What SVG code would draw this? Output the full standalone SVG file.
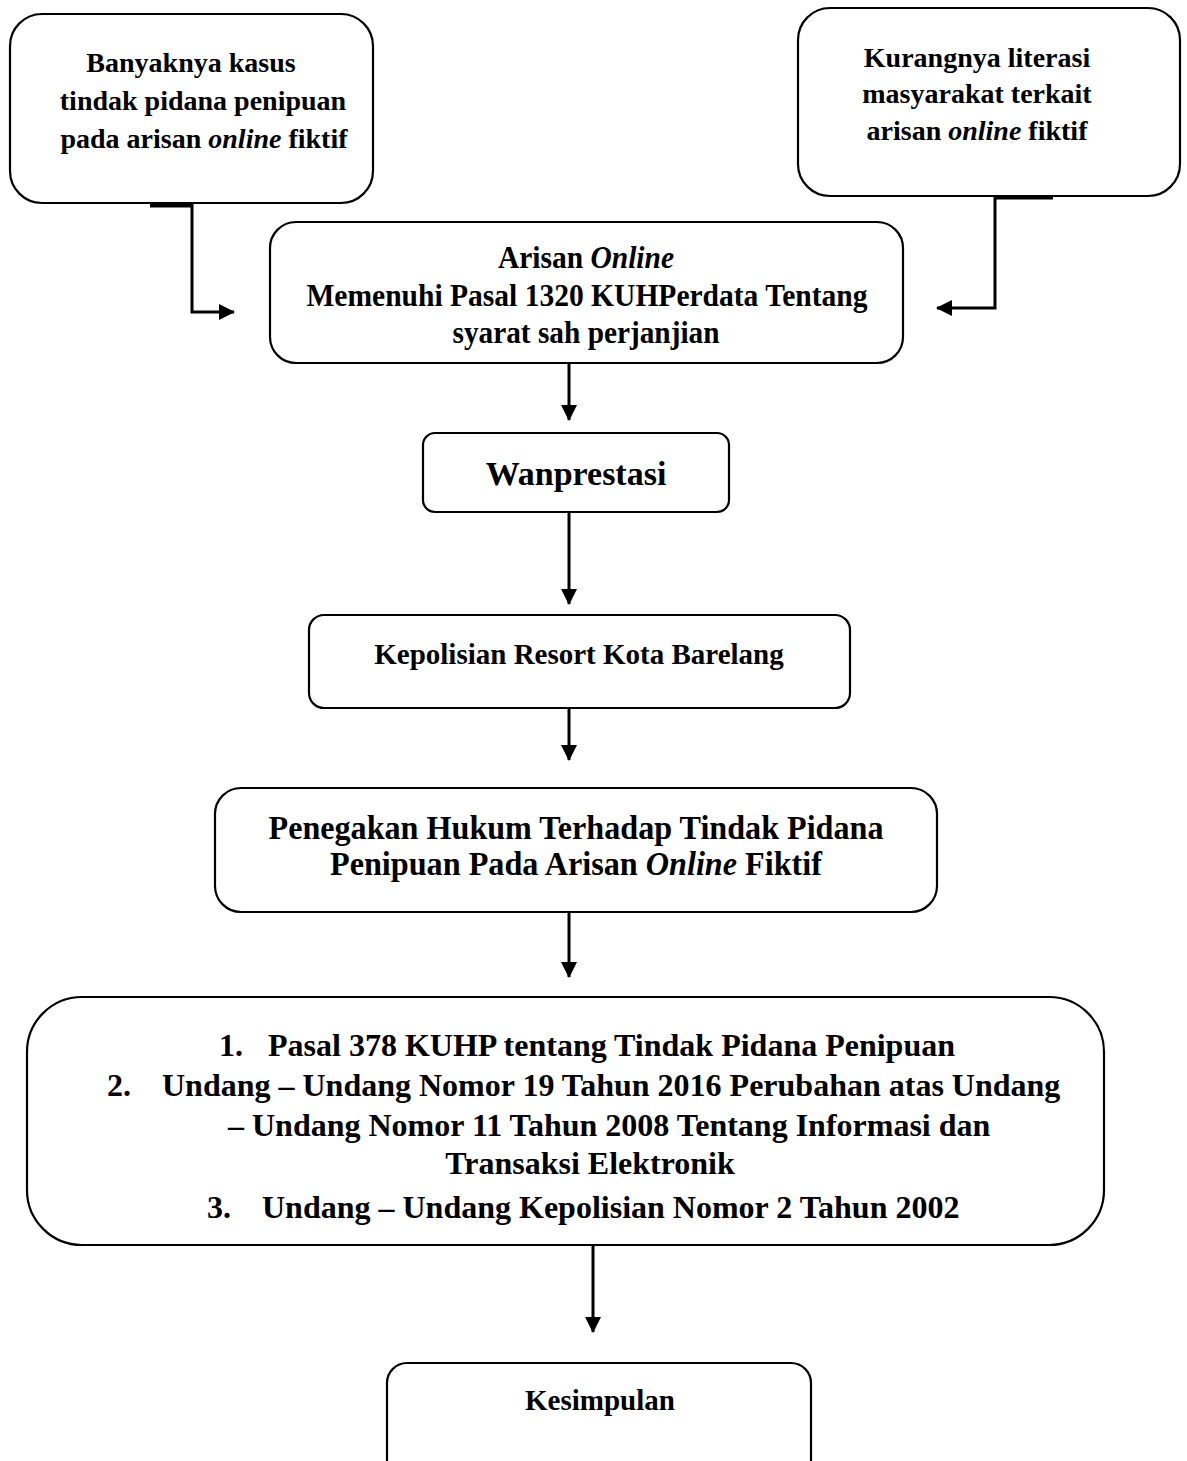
<svg xmlns="http://www.w3.org/2000/svg" width="1187" height="1461" viewBox="0 0 1187 1461">
<style>
.box{fill:#fff;stroke:#000;stroke-width:2.2}
.t{font-family:"Liberation Serif","Times New Roman",serif;font-weight:bold;fill:#000;text-anchor:middle}
.tl{font-family:"Liberation Serif","Times New Roman",serif;font-weight:bold;fill:#000}
.i{font-style:italic}
.c{fill:none;stroke:#000;stroke-width:3}
.stub{fill:none;stroke:#000;stroke-width:5}
</style>
<defs>
<marker id="ah" markerUnits="userSpaceOnUse" markerWidth="16" markerHeight="16" viewBox="0 0 16 16" refX="15" refY="8" orient="auto">
<path d="M0,0 L16,8 L0,16 Z" fill="#000"/>
</marker>
</defs>
<rect width="1187" height="1461" fill="#fff"/>
<g id="connectors">
<path class="stub" d="M150,205 H193"/>
<path class="c" d="M192,204 V312 H234" marker-end="url(#ah)"/>
<path class="stub" d="M995,197 H1053"/>
<path class="c" d="M995,196 V308 H937" marker-end="url(#ah)"/>
<path class="c" d="M569,363 V420" marker-end="url(#ah)"/>
<path class="c" d="M569,512 V604" marker-end="url(#ah)"/>
<path class="c" d="M569,708 V760" marker-end="url(#ah)"/>
<path class="c" d="M569,912 V977" marker-end="url(#ah)"/>
<path class="c" d="M593,1245 V1332" marker-end="url(#ah)"/>
</g>
<g id="node-banyaknya">
<rect class="box" x="10" y="14" width="363" height="189" rx="32"/>
<text class="t" font-size="28" x="191" y="72">Banyaknya kasus</text>
<text class="t" font-size="28" x="203" y="110">tindak pidana penipuan</text>
<text class="t" font-size="28" x="204" y="148">pada arisan <tspan class="i">online</tspan> fiktif</text>
</g>
<g id="node-kurangnya">
<rect class="box" x="798" y="8" width="382" height="188" rx="32"/>
<text class="t" font-size="28" x="977" y="67">Kurangnya literasi</text>
<text class="t" font-size="28" x="977" y="103">masyarakat terkait</text>
<text class="t" font-size="28" x="977" y="140">arisan <tspan class="i">online</tspan> fiktif</text>
</g>
<g id="node-arisan">
<rect class="box" x="270" y="222" width="633" height="141" rx="26"/>
<text class="t" font-size="32" x="586" y="268" textLength="176" lengthAdjust="spacingAndGlyphs">Arisan <tspan class="i">Online</tspan></text>
<text class="t" font-size="32" x="587" y="306" textLength="561" lengthAdjust="spacingAndGlyphs">Memenuhi Pasal 1320 KUHPerdata Tentang</text>
<text class="t" font-size="32" x="586" y="343" textLength="267" lengthAdjust="spacingAndGlyphs">syarat sah perjanjian</text>
</g>
<g id="node-wanprestasi">
<rect class="box" x="423" y="433" width="306" height="79" rx="12"/>
<text class="t" font-size="34" x="576" y="485">Wanprestasi</text>
</g>
<g id="node-kepolisian">
<rect class="box" x="309" y="615" width="541" height="93" rx="15"/>
<text class="t" font-size="29" x="579" y="664">Kepolisian Resort Kota Barelang</text>
</g>
<g id="node-penegakan">
<rect class="box" x="215" y="788" width="722" height="124" rx="26"/>
<text class="t" font-size="33" x="576" y="839" textLength="615" lengthAdjust="spacingAndGlyphs">Penegakan Hukum Terhadap Tindak Pidana</text>
<text class="t" font-size="33" x="576" y="875" textLength="492" lengthAdjust="spacingAndGlyphs">Penipuan Pada Arisan <tspan class="i">Online</tspan> Fiktif</text>
</g>
<g id="node-dasar-hukum">
<rect class="box" x="27" y="997" width="1077" height="248" rx="55"/>
<text class="tl" font-size="32" x="219" y="1056">1.</text>
<text class="tl" font-size="32" x="268" y="1056">Pasal 378 KUHP tentang Tindak Pidana Penipuan</text>
<text class="tl" font-size="32" x="107" y="1096">2.</text>
<text class="tl" font-size="32" x="162" y="1096">Undang – Undang Nomor 19 Tahun 2016 Perubahan atas Undang</text>
<text class="tl" font-size="32" x="228" y="1136">– Undang Nomor 11 Tahun 2008 Tentang Informasi dan</text>
<text class="t" font-size="32" x="590" y="1174">Transaksi Elektronik</text>
<text class="tl" font-size="32" x="207" y="1218">3.</text>
<text class="tl" font-size="32" x="262" y="1218">Undang – Undang Kepolisian Nomor 2 Tahun 2002</text>
</g>
<g id="node-kesimpulan">
<rect class="box" x="387" y="1363" width="424" height="130" rx="20"/>
<text class="t" font-size="29" x="600" y="1410">Kesimpulan</text>
</g>
</svg>
